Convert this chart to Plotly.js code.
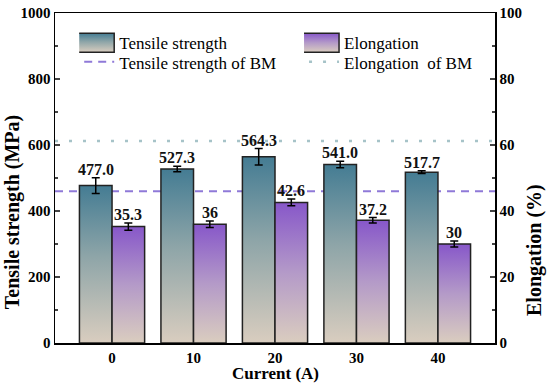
<!DOCTYPE html>
<html>
<head>
<meta charset="utf-8">
<script src="https://cdn.plot.ly/plotly-3.0.1.min.js"></script>
<style>
html,body{margin:0;padding:0;background:#fff;}
#chart{width:550px;height:384px;}
</style>
</head>
<body>
<div id="chart"></div>
<script>
const currents = [0, 10, 20, 30, 40];
const tensile = [477.0, 527.3, 564.3, 541.0, 517.7];
const tensileErr = [24, 8.5, 25, 10, 4];
const tensileLabels = ['477.0', '527.3', '564.3', '541.0', '517.7'];
const elong = [35.3, 36, 42.6, 37.2, 30];
const elongErr = [1.1, 1.0, 1.0, 0.8, 0.9];
const elongLabels = ['35.3', '36', '42.6', '37.2', '30'];
const tensileBM = 460;
const elongBM = 61.2;

const FONT = 'Liberation Serif, Times New Roman, serif';

const traces = [
  {
    type: 'bar', name: 'Tensile strength', x: currents, y: tensile,
    yaxis: 'y', offsetgroup: 'a', alignmentgroup: 'g', legend: 'legend',
    marker: {color: '#6f929c', line: {color: '#222', width: 1.5}},
    error_y: {type: 'data', array: tensileErr, visible: true, color: '#000', thickness: 1.5, width: 4}
  },
  {
    type: 'bar', name: 'Elongation', x: currents, y: elong,
    yaxis: 'y2', offsetgroup: 'b', alignmentgroup: 'g', legend: 'legend2',
    marker: {color: '#a57fc6', line: {color: '#222', width: 1.5}},
    error_y: {type: 'data', array: elongErr, visible: true, color: '#000', thickness: 1.5, width: 4}
  }
];

const annotations = [];
currents.forEach((c, i) => {
  annotations.push({x: c, y: tensile[i] + tensileErr[i], xref: 'x', yref: 'y', text: tensileLabels[i],
    showarrow: false, xanchor: 'center', yanchor: 'bottom', xshift: -16.3, yshift: -2,
    font: {family: FONT, size: 16, weight: 'bold', color: '#111'}});
  annotations.push({x: c, y: elong[i] + elongErr[i], xref: 'x', yref: 'y2', text: elongLabels[i],
    showarrow: false, xanchor: 'center', yanchor: 'bottom', xshift: 16.3, yshift: -2,
    font: {family: FONT, size: 16, weight: 'bold', color: '#111'}});
});
// axis titles
annotations.push({text: 'Current (A)', xref: 'paper', yref: 'paper', x: 0.5, y: -0.091,
  xanchor: 'center', yanchor: 'middle', showarrow: false,
  font: {family: FONT, size: 17, weight: 'bold', color: '#000'}});
annotations.push({text: 'Tensile strength (MPa)', xref: 'paper', yref: 'paper', x: -0.095, y: 0.397,
  xanchor: 'center', yanchor: 'middle', showarrow: false, textangle: -90,
  font: {family: FONT, size: 20, weight: 'bold', color: '#000'}});
annotations.push({text: 'Elongation (%)', xref: 'paper', yref: 'paper', x: 1.091, y: 0.282,
  xanchor: 'center', yanchor: 'middle', showarrow: false, textangle: -90,
  font: {family: FONT, size: 20, weight: 'bold', color: '#000'}});

const legendCommon = {
  orientation: 'v', yanchor: 'top', xanchor: 'left', y: 0.963, tracegroupgap: 0,
  bgcolor: 'rgba(0,0,0,0)', borderwidth: 0, traceorder: 'normal',
  font: {family: FONT, size: 17, color: '#000'}
};

const layout = {
  width: 550, height: 384,
  margin: {l: 55, r: 55, t: 13, b: 41},
  paper_bgcolor: '#fff', plot_bgcolor: '#fff',
  font: {family: FONT, color: '#000', size: 16},
  barmode: 'group', bargap: 0.2, bargroupgap: 0,
  showlegend: true,
  legend: Object.assign({x: 0.055}, legendCommon),
  legend2: Object.assign({x: 0.566}, legendCommon),
  xaxis: {
    range: [-7, 47], tickvals: currents, ticktext: currents.map(String),
    showline: true, linecolor: '#000', linewidth: 1.5, mirror: true,
    ticks: '', showgrid: false, zeroline: false,
    tickfont: {family: FONT, size: 15, weight: 'bold'}
  },
  yaxis: {
    range: [0, 1000], dtick: 200, ticks: 'inside', ticklen: 5, tickwidth: 1.5,
    showline: true, linecolor: '#000', linewidth: 1.5, showgrid: false, zeroline: false,
    minor: {dtick: 100, ticks: 'inside', ticklen: 3, tickwidth: 1.5, showgrid: false},
    tickfont: {family: FONT, size: 15, weight: 'bold'}
  },
  yaxis2: {
    range: [0, 100], dtick: 20, overlaying: 'y', side: 'right', ticks: 'inside', ticklen: 5, tickwidth: 1.5,
    showline: true, linecolor: '#000', linewidth: 1.5, showgrid: false, zeroline: false,
    minor: {dtick: 10, ticks: 'inside', ticklen: 3, tickwidth: 1.5, showgrid: false},
    tickfont: {family: FONT, size: 15, weight: 'bold'}
  },
  shapes: [
    {type: 'line', xref: 'x domain', x0: 0, x1: 1, yref: 'y', y0: tensileBM, y1: tensileBM,
     layer: 'below', line: {color: '#8f79d8', width: 2, dash: '8px,6px'},
     showlegend: true, legend: 'legend', name: 'Tensile strength of BM'},
    {type: 'line', xref: 'x domain', x0: 0, x1: 1, yref: 'y2', y0: elongBM, y1: elongBM,
     layer: 'below', line: {color: '#a6c3c8', width: 2.5, dash: '3px,11px'},
     showlegend: true, legend: 'legend2', name: 'Elongation  of BM'}
  ],
  annotations: annotations
};

function applyGradients(gd) {
  const NS = 'http://www.w3.org/2000/svg';
  const svg = gd.querySelector('svg.main-svg');
  let defs = svg.querySelector('defs');
  if (!defs) { defs = document.createElementNS(NS, 'defs'); svg.insertBefore(defs, svg.firstChild); }
  function mk(id, stops) {
    if (document.getElementById(id)) return;
    const g = document.createElementNS(NS, 'linearGradient');
    g.setAttribute('id', id);
    g.setAttribute('x1', '0'); g.setAttribute('y1', '0'); g.setAttribute('x2', '0'); g.setAttribute('y2', '1');
    stops.forEach(([o, c]) => {
      const s = document.createElementNS(NS, 'stop');
      s.setAttribute('offset', o); s.setAttribute('stop-color', c);
      g.appendChild(s);
    });
    defs.appendChild(g);
  }
  mk('gradT', [['0', '#447c93'], ['0.45', '#8ea5a8'], ['1', '#d9cdbf']]);
  mk('gradE', [['0', '#8757c9'], ['0.5', '#b49ac8'], ['1', '#dacdbf']]);
  const ids = ['gradT', 'gradE'];
  const barTraces = gd.querySelectorAll('.barlayer .trace.bars');
  barTraces.forEach((t, i) => {
    t.querySelectorAll('.point path').forEach(p => { p.style.fill = 'url(#' + ids[i] + ')'; });
  });
  const legs = [gd.querySelector('.legend'), gd.querySelector('.legend2')];
  legs.forEach((lg, i) => {
    if (!lg) return;
    const items = lg.querySelectorAll('.traces');
    if (!items.length) return;
    items[0].querySelectorAll('.legendpoints path').forEach(p => {
      p.setAttribute('d', 'M15,9.5H-22V-9.5H15Z');
      p.style.fill = 'url(#' + ids[i] + ')';
      p.style.stroke = '#222';
      p.style.strokeWidth = '1.5px';
    });
    if (items[1]) {
      const tr = items[1].getAttribute('transform') || '';
      const m = tr.match(/translate\(\s*([-\d.]+)[ ,]+([-\d.]+)\s*\)/);
      if (m) items[1].setAttribute('transform', 'translate(' + m[1] + ',' + (parseFloat(m[2]) - 6) + ')');
    }
  });
}

const gd = document.getElementById('chart');
Plotly.newPlot(gd, traces, layout, {displayModeBar: false, staticPlot: true}).then(() => applyGradients(gd));
</script>
</body>
</html>
